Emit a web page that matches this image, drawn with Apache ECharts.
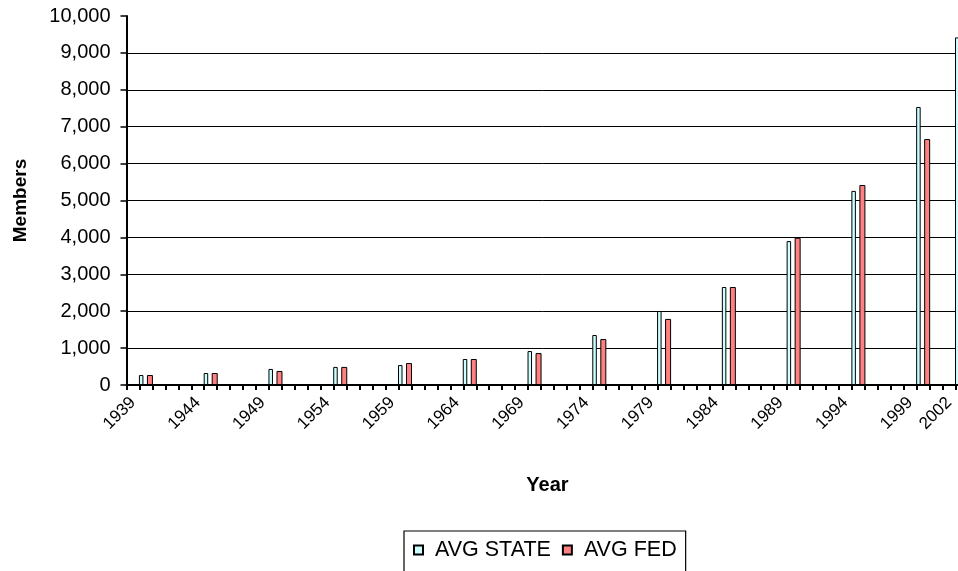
<!DOCTYPE html>
<html>
<head>
<meta charset="utf-8">
<script src="https://cdn.jsdelivr.net/npm/echarts@6/dist/echarts.min.js"></script>
<style>
  html, body { margin: 0; padding: 0; background: #ffffff; overflow: hidden; }
  #chart { width: 958px; height: 571px; }
</style>
</head>
<body>
<div id="chart"></div>
<script>
// Category axis: one category per year (axis continues past the visible right edge)
var categories = [
  '1939','1940','1941','1942','1943','1944','1945','1946','1947','1948',
  '1949','1950','1951','1952','1953','1954','1955','1956','1957','1958',
  '1959','1960','1961','1962','1963','1964','1965','1966','1967','1968',
  '1969','1970','1971','1972','1973','1974','1975','1976','1977','1978',
  '1979','1980','1981','1982','1983','1984','1985','1986','1987','1988',
  '1989','1990','1991','1992','1993','1994','1995','1996','1997','1998',
  '1999','2000','2001','2002','2003'
];
// Tick labels that are shown on the x axis
var labelYears = ['1939','1944','1949','1954','1959','1964','1969','1974','1979','1984','1989','1994','1999','2002'];
// Years that carry data
var dataYears = ['1940','1945','1950','1955','1960','1965','1970','1975','1980','1985','1990','1995','2000','2003'];
var avgState = [270, 325, 435, 490, 540, 705, 920, 1355, 2005, 2655, 3900, 5260, 7535, 9420];
var avgFed   = [270, 325, 380, 490, 595, 705, 865, 1245, 1790, 2655, 3990, 5420, 6665, null];
var yTicks = { min: 0, max: 10000, interval: 1000 };

function expand(vals) {
  return categories.map(function (c) {
    var i = dataYears.indexOf(c);
    return i >= 0 ? vals[i] : null;
  });
}

var FONT = "'Liberation Sans', Arial, sans-serif";
var chart = echarts.init(document.getElementById('chart'), null, { renderer: 'canvas' });
chart.setOption({
  animation: false,
  backgroundColor: '#ffffff',
  grid: { left: 126.5, top: 16, width: 842, height: 369, containLabel: false, outerBoundsMode: 'none' },
  legend: {
    left: 404, top: 531,
    orient: 'horizontal',
    borderColor: '#000', borderWidth: 1.2,
    padding: [8, 9, 12, 9],
    itemWidth: 9, itemHeight: 9, itemGap: 11,
    icon: 'rect',
    textStyle: { fontFamily: FONT, fontSize: 21.5, color: '#000', padding: [0, 0, 0, 7] },
    data: ['AVG STATE', 'AVG FED']
  },
  xAxis: {
    type: 'category',
    data: categories,
    boundaryGap: true,
    name: 'Year',
    nameLocation: 'middle',
    nameGap: 90,
    nameTextStyle: { fontFamily: FONT, fontSize: 20, fontWeight: 'bold', color: '#000' },
    axisLine: { lineStyle: { color: '#000', width: 2 } },
    axisTick: { show: true, interval: 0, length: 5, inside: false, lineStyle: { color: '#000', width: 2 } },
    axisLabel: {
      interval: function (idx, val) { return labelYears.indexOf(val) >= 0; },
      rotate: 45,
      margin: 15,
      fontFamily: FONT, fontSize: 17, color: '#000'
    },
    splitLine: { show: false }
  },
  yAxis: {
    type: 'value',
    min: yTicks.min, max: yTicks.max, interval: yTicks.interval,
    name: 'Members',
    nameLocation: 'middle',
    nameGap: 96,
    nameTextStyle: { fontFamily: FONT, fontSize: 19, fontWeight: 'bold', color: '#000' },
    axisLine: { show: true, lineStyle: { color: '#000', width: 2 } },
    axisTick: { show: true, length: 6, lineStyle: { color: '#000', width: 1.5 } },
    axisLabel: {
      margin: 16,
      fontFamily: FONT, fontSize: 20, color: '#000',
      formatter: function (v) { return v.toLocaleString('en-US'); }
    },
    splitLine: { show: true, showMaxLine: false, showMinLine: false, lineStyle: { color: '#000', width: 1 } }
  },
  series: [
    {
      name: 'AVG STATE', type: 'bar',
      data: expand(avgState),
      barWidth: 4.5,
      barGap: '78%',
      itemStyle: { color: '#CCFFFF', borderColor: '#000', borderWidth: 1 }
    },
    {
      name: 'AVG FED', type: 'bar',
      data: expand(avgFed),
      barWidth: 6,
      barGap: '78%',
      itemStyle: { color: '#FF8080', borderColor: '#000', borderWidth: 1 }
    }
  ]
});
</script>
</body>
</html>
